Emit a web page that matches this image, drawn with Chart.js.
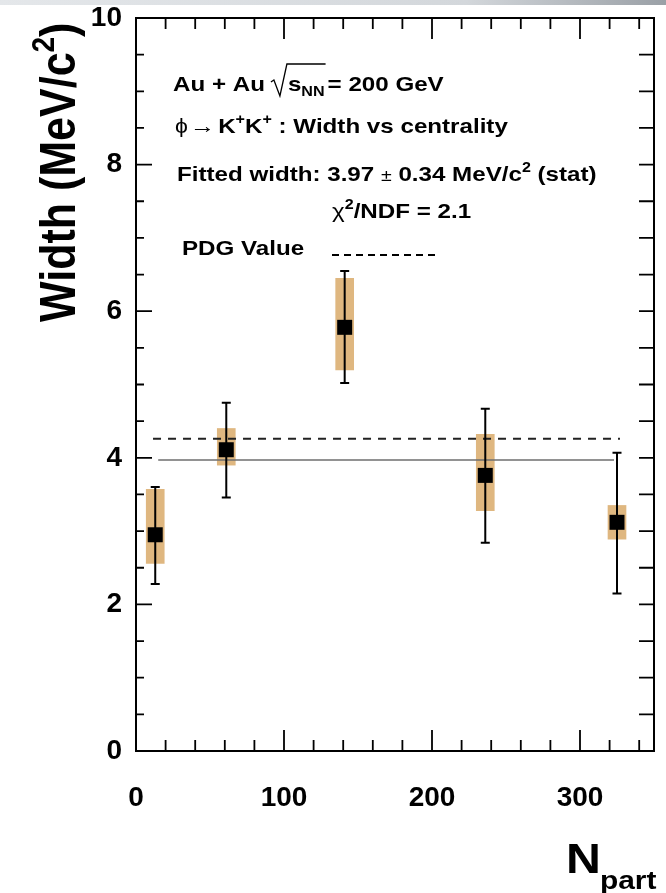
<!DOCTYPE html>
<html><head><meta charset="utf-8">
<script src="https://cdn.jsdelivr.net/npm/chart.js@4/dist/chart.umd.min.js"></script>
<style>
html,body{margin:0;padding:0;background:#fff;}
#wrap{position:relative;width:666px;height:893px;}
#band{position:absolute;left:0;top:0;width:666px;height:5px;background:linear-gradient(90deg,#e4e7ea,#d3d7db 70%,#9aa0a6);}
</style>
</head><body>
<div id="wrap"><canvas id="c" width="666" height="893"></canvas><div id="band"></div></div>
<script>
// ---- data ----
const npart  = [13, 61, 141, 236, 325];
const width  = [2.95, 4.11, 5.78, 3.76, 3.12];
const statLo = [2.28, 3.46, 5.02, 2.84, 2.15];
const statHi = [3.60, 4.75, 6.55, 4.67, 4.07];
const sysLo  = [2.56, 3.90, 5.20, 3.28, 2.89];
const sysHi  = [3.57, 4.40, 6.45, 4.32, 3.35];
const fitValue = 3.97;
const fitRange = [15, 323];
const pdgValue = 4.26;
const pdgRange = [11.5, 327];
const xTickLabels = [0, 100, 200, 300];
const yTickLabels = [0, 2, 4, 6, 8, 10];

const SX = 1.15;
const FAM = '"Liberation Sans", Arial, Helvetica, sans-serif';

function seg(ctx, x, y, text, size, weight, dy) {
  ctx.save();
  ctx.font = weight + ' ' + size + 'px ' + FAM;
  ctx.textBaseline = 'alphabetic';
  ctx.textAlign = 'left';
  ctx.translate(x, y + (dy || 0));
  ctx.scale(SX, 1);
  ctx.fillText(text, 0, 0);
  const w = ctx.measureText(text).width * SX;
  ctx.restore();
  return x + w;
}

const decor = {
  id: 'decor',
  afterDatasetsDraw(chart) {
    const ctx = chart.ctx;
    const xs = chart.scales.x, ys = chart.scales.y;
    const a = chart.chartArea;
    ctx.save();
    // error bars
    ctx.strokeStyle = '#000';
    ctx.lineWidth = 2;
    for (let i = 0; i < npart.length; i++) {
      const px = xs.getPixelForValue(npart[i]);
      const t = ys.getPixelForValue(statHi[i]);
      const b = ys.getPixelForValue(statLo[i]);
      ctx.beginPath();
      ctx.moveTo(px, t); ctx.lineTo(px, b);
      ctx.moveTo(px - 4.5, t); ctx.lineTo(px + 4.5, t);
      ctx.moveTo(px - 4.5, b); ctx.lineTo(px + 4.5, b);
      ctx.stroke();
    }
    // frame
    ctx.lineWidth = 2;
    ctx.strokeRect(a.left, a.top, a.right - a.left, a.bottom - a.top);
    // y ticks
    ctx.lineWidth = 1.8;
    for (let v = 0; v <= 10.001; v += 0.5) {
      const py = ys.getPixelForValue(v);
      const major = Math.abs(v / 2 - Math.round(v / 2)) < 1e-6;
      const L = major ? 16 : 8;
      ctx.beginPath();
      ctx.moveTo(a.left, py); ctx.lineTo(a.left + L, py);
      ctx.moveTo(a.right, py); ctx.lineTo(a.right - 15, py);
      ctx.stroke();
    }
    // x ticks bottom and top
    for (let v = 0; v <= 350; v += 20) {
      const px = xs.getPixelForValue(v);
      const major = v % 100 === 0;
      const L = major ? 21 : 11;
      ctx.beginPath();
      ctx.moveTo(px, a.bottom); ctx.lineTo(px, a.bottom - L);
      ctx.moveTo(px, a.top); ctx.lineTo(px, a.top + L);
      ctx.stroke();
    }
    ctx.restore();

    // annotations
    ctx.save();
    ctx.fillStyle = '#000';
    ctx.strokeStyle = '#000';
    // line 1
    let x = seg(ctx, 173, 91, 'Au + Au', 21, 'bold');
    const rx = x + 6;
    let x2 = seg(ctx, rx + 17, 91, 's', 21, 'bold');
    x2 = seg(ctx, x2, 91, 'NN', 14, 'bold', 5);
    ctx.lineWidth = 1.3;
    ctx.beginPath();
    ctx.moveTo(rx, 82); ctx.lineTo(rx + 3, 80); ctx.lineTo(rx + 9, 96);
    ctx.lineTo(rx + 16, 64); ctx.lineTo(x2 + 1, 64);
    ctx.stroke();
    seg(ctx, x2 + 3, 91, '= 200 GeV', 21, 'bold');
    // line 2
    x = seg(ctx, 175, 133, '\u03D5', 20, 'normal');
    x = seg(ctx, x + 2, 133, '\u2192', 22, 'normal');
    x = seg(ctx, x + 3, 133, 'K', 21, 'bold');
    x = seg(ctx, x, 133, '+', 14, 'bold', -9);
    x = seg(ctx, x, 133, 'K', 21, 'bold');
    x = seg(ctx, x, 133, '+', 14, 'bold', -9);
    seg(ctx, x, 133, ' : Width vs centrality', 21, 'bold');
    // line 3
    x = seg(ctx, 177, 181, 'Fitted width: 3.97 ', 21, 'bold');
    x = seg(ctx, x, 181, '\u00B1', 17, 'normal');
    x = seg(ctx, x, 181, ' 0.34 MeV/c', 21, 'bold');
    x = seg(ctx, x, 181, '2', 14, 'bold', -9);
    seg(ctx, x, 181, ' (stat)', 21, 'bold');
    // line 4
    x = seg(ctx, 332, 218, '\u03C7', 21, 'normal');
    x = seg(ctx, x, 218, '2', 14, 'bold', -9);
    seg(ctx, x, 218, '/NDF = 2.1', 21, 'bold');
    // line 5
    seg(ctx, 182, 255, 'PDG Value', 21, 'bold');
    ctx.lineWidth = 2;
    ctx.setLineDash([7, 5]);
    ctx.beginPath(); ctx.moveTo(332, 255); ctx.lineTo(440, 255); ctx.stroke();
    ctx.setLineDash([]);

    // y title (rotated)
    ctx.save();
    ctx.translate(75, 322);
    ctx.rotate(-Math.PI / 2);
    ctx.scale(1, SX);
    ctx.font = 'bold 43px ' + FAM;
    ctx.fillText('Width (MeV/c', 0, 0);
    let w = ctx.measureText('Width (MeV/c').width;
    ctx.font = 'bold 28px ' + FAM;
    ctx.fillText('2', w, -18);
    w += ctx.measureText('2').width;
    ctx.font = 'bold 43px ' + FAM;
    ctx.fillText(')', w, 0);
    ctx.restore();

    // x title
    x = seg(ctx, 566, 873, 'N', 42, 'bold');
    seg(ctx, x - 1, 889, 'part', 26, 'bold');
    ctx.restore();
  }
};

const tan = 'rgb(223,183,128)';
new Chart(document.getElementById('c'), {
  data: {
    datasets: [
      {
        type: 'bar',
        data: npart.map((n, i) => ({x: n, y: [sysLo[i], sysHi[i]]})),
        backgroundColor: tan,
        borderWidth: 0,
        barThickness: 18,
        grouped: false,
        order: 5
      },
      {
        type: 'line',
        data: fitRange.map(n => ({x: n, y: fitValue})),
        borderColor: '#6e6e6e',
        borderWidth: 1.6,
        pointRadius: 0,
        order: 4
      },
      {
        type: 'line',
        data: pdgRange.map(n => ({x: n, y: pdgValue})),
        borderColor: '#222',
        borderWidth: 2,
        borderDash: [8, 7],
        pointRadius: 0,
        order: 3
      },
      {
        type: 'scatter',
        data: npart.map((n, i) => ({x: n, y: width[i]})),
        pointStyle: 'rect',
        pointRadius: 10.6,
        backgroundColor: '#000',
        borderColor: '#000',
        borderWidth: 0,
        order: 0
      }
    ]
  },
  options: {
    responsive: false,
    animation: false,
    events: [],
    layout: {padding: {top: 18, right: 12, left: 0, bottom: 0}},
    plugins: {legend: {display: false}, tooltip: {enabled: false}},
    scales: {
      x: {
        type: 'linear', position: 'bottom', min: 0, max: 350, offset: false,
        afterFit(s) { s.height = 142; s.paddingLeft = 0; s.paddingRight = 0; },
        afterBuildTicks(s) { s.ticks = xTickLabels.map(v => ({value: v})); },
        grid: {display: false, drawTicks: false, offset: false},
        border: {display: false},
        ticks: {color: '#000', padding: 30, font: {family: FAM, size: 28, weight: 'bold'}, maxRotation: 0}
      },
      y: {
        type: 'linear', position: 'left', min: 0, max: 10,
        afterFit(s) { s.width = 136; s.paddingTop = 0; s.paddingBottom = 0; },
        afterBuildTicks(s) { s.ticks = yTickLabels.map(v => ({value: v})); },
        grid: {display: false, drawTicks: false},
        border: {display: false},
        ticks: {color: '#000', padding: 14, font: {family: FAM, size: 28, weight: 'bold'}}
      }
    }
  },
  plugins: [decor]
});
</script>
</body></html>
